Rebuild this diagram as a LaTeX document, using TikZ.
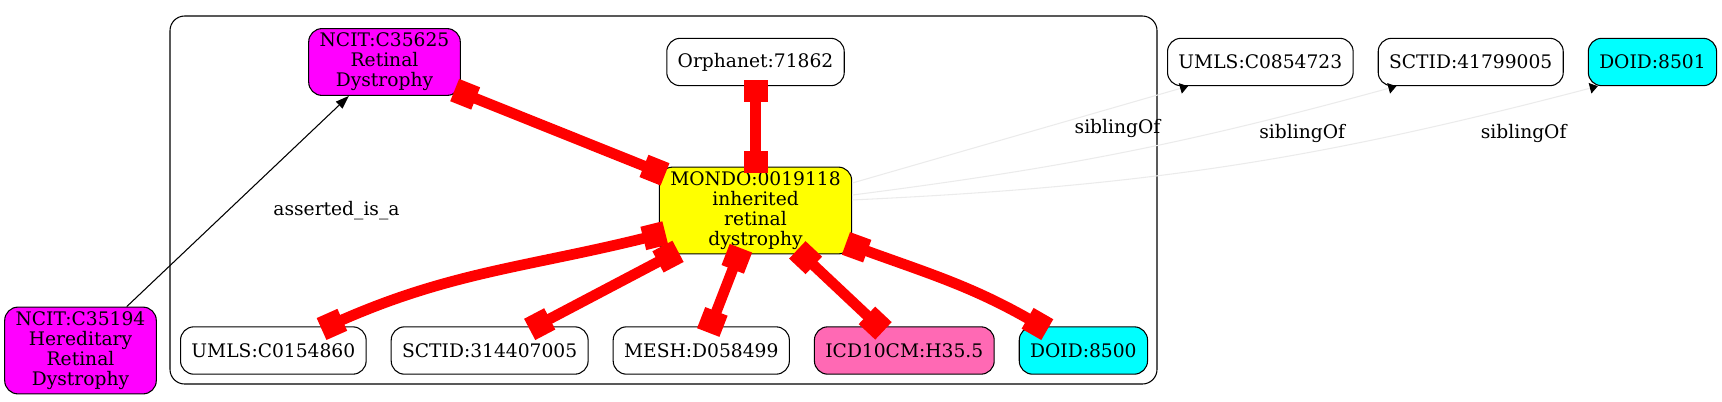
\documentclass[tikz,border=0pt]{standalone}
\usepackage{fontspec}
\setmainfont{DejaVu Serif}
\usepackage{xcolor}
\usepackage{tikz}
\usetikzlibrary{arrows.meta, positioning}
\definecolor{hotpink}{RGB}{255,105,180}
\definecolor{ncitpink}{RGB}{255,0,255}
\definecolor{doidcyan}{RGB}{0,255,255}
\definecolor{mondoyellow}{RGB}{255,255,0}
\definecolor{xrefred}{RGB}{255,0,0}

\begin{document}
\begin{tikzpicture}[
    x=0.75pt, y=-0.75pt,
    node distance=18pt,
    font=\fontsize{14pt}{15pt}\selectfont,
    term/.style={
        draw,
        line width=0.8pt,
        rounded corners=10pt,
        align=center,
        inner xsep=8.2pt,
        inner ysep=3.3pt,
        minimum height=35.5pt
    },
    xref/.style={
        draw=xrefred,
        line width=8pt,
        shorten <=-5pt, shorten >=-5pt,
        arrows={Rectangle[length=17pt,width=18pt]-Rectangle[length=17pt,width=18pt]}
    },
    isa/.style={draw, line width=0.8pt, -{Triangle[length=10pt,width=7pt]}},
    sib/.style={draw=black!8, line width=0.8pt, -{Triangle[length=6pt,width=8pt,color=black]}}
]
\useasboundingbox (0,0) rectangle (1722,401);

% Cluster
\draw[line width=0.8pt, rounded corners=11pt] (170,16) rectangle (1157,384);

% Nodes
\node[term, fill=ncitpink] (c35194) at (80.5,350.5) {NCIT:C35194\\Hereditary\\Retinal\\Dystrophy};
\node[term, fill=ncitpink] (c35625) at (384.5,62) {NCIT:C35625\\Retinal\\Dystrophy};
\node[term] (orpha) at (755.5,62) {Orphanet:71862};
\node[term, fill=mondoyellow] (mondo) at (755.5,210.5) {MONDO:0019118\\inherited\\retinal\\dystrophy};
\node[term, anchor=west] (umls1) at (180,350.5) {UMLS:C0154860};
\node[term, right=of umls1] (sctid1) {SCTID:314407005};
\node[term, right=of sctid1] (mesh) {MESH:D058499};
\node[term, right=of mesh, fill=hotpink] (icd) {ICD10CM:H35.5};
\node[term, right=of icd, fill=doidcyan] (doid8500) {DOID:8500};
\node[term, anchor=west] (umls2) at (1167,62) {UMLS:C0854723};
\node[term, right=of umls2] (sctid2) {SCTID:41799005};
\node[term, right=of sctid2, fill=doidcyan] (doid8501) {DOID:8501};

% Edges
\draw[xref] (c35625) -- (mondo);
\draw[xref] (orpha) -- (mondo);
\draw[xref] (mondo) to[out=194,in=24] (umls1);
\draw[xref] (mondo) -- (sctid1);
\draw[xref] (mondo) -- (mesh);
\draw[xref] (mondo) -- (icd);
\draw[xref] (mondo) to[out=-20,in=150] (doid8500);
\draw[isa] (c35194) -- node[midway, xshift=74pt, yshift=-7pt] (lblisa) {asserted\_is\_a} (c35625);
\draw[sib] ([yshift=20.6pt]mondo.east) -- node[pos=0.79, yshift=-16.5pt] (lblsib1) {siblingOf} ([xshift=15.75pt]umls2.south west);
\draw[sib] ([yshift=11.6pt]mondo.east) to[bend right=4] node[pos=0.84, yshift=-17pt] (lblsib2) {siblingOf} ([xshift=14pt]sctid2.south west);
\draw[sib] ([yshift=7.9pt]mondo.east) to[bend right=6] node[pos=0.91, yshift=-21pt] (lblsib3) {siblingOf} ([xshift=7.5pt]doid8501.south west);
\end{tikzpicture}
\end{document}
